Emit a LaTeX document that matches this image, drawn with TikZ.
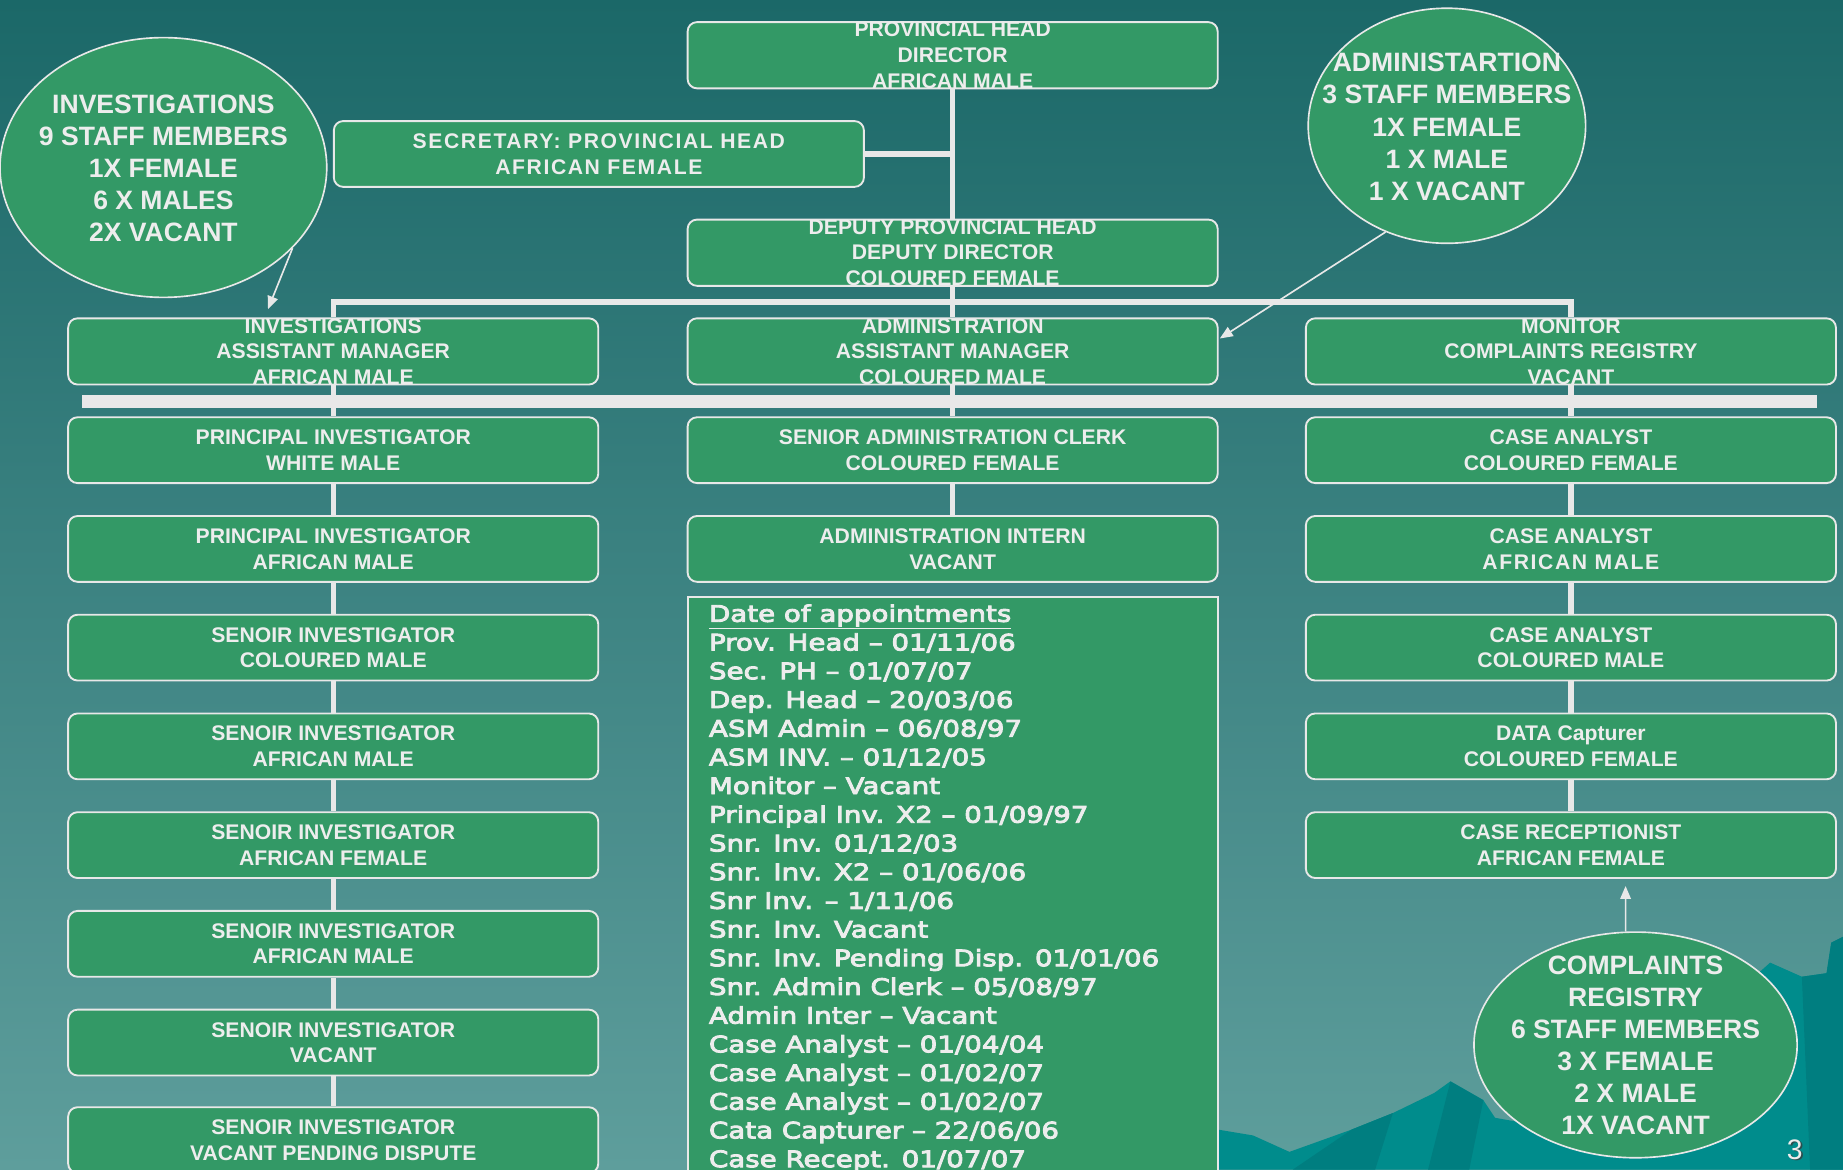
\documentclass[tikz,border=0pt]{standalone}
\usepackage{fontspec}
\setmainfont{Liberation Sans}
\newfontfamily\spcfont[LetterSpace=7.5]{Liberation Sans}
\newfontfamily\datefont[FakeStretch=1.22,FakeBold=4]{DejaVu Sans}
\usetikzlibrary{shapes.geometric,arrows.meta,calc}
\definecolor{bgtop}{HTML}{1B6868}
\definecolor{bgbot}{HTML}{5E9E9C}
\definecolor{gfill}{HTML}{339966}
\definecolor{wline}{HTML}{E8E8E8}
\definecolor{wtext}{HTML}{EDEDED}
\definecolor{mount}{HTML}{008C8C}
\definecolor{mountd}{HTML}{007E80}
\definecolor{shadowc}{HTML}{2A4F4F}
\begin{document}
\begin{tikzpicture}[x=1pt,y=-1pt,
  box/.style={draw=wline, line width=1.6pt, fill=gfill, rounded corners=8pt,
    minimum width=451pt, minimum height=56pt, inner sep=0pt, align=center,
    text=wtext, font=\bfseries\fontsize{18}{21.8}\selectfont},
  spcbox/.style={box, font=\spcfont\bfseries\fontsize{18}{21.8}\selectfont},
  conn/.style={draw=wline, line width=4.5pt},
  arr/.style={draw=wline, line width=1.4pt, -{Triangle[width=9pt,length=11pt]}},
  ell/.style={ellipse, draw=wline, line width=1.4pt, fill=gfill, inner sep=0pt},
  elltxt/.style={align=center, text=wtext, inner sep=0pt,
    font=\bfseries\fontsize{22.6}{27.3}\selectfont},
  dline/.style={anchor=base west, text=wtext, inner sep=0pt,
    font=\datefont\fontsize{19.3}{24}\selectfont}]
\useasboundingbox (0,0) rectangle (1568,995);
\clip (0,0) rectangle (1568,995);
% background
\shade[top color=bgtop, bottom color=bgbot] (0,0) rectangle (1568,995);
% mountains
\fill[mount] (1030,960) -- (1066,966) -- (1097,980) -- (1150,961) -- (1185,947)
  -- (1220,930) -- (1234,920) -- (1262,936) -- (1272,951) -- (1300,956)
  -- (1480,842) -- (1506,819) -- (1533,831) -- (1554,828) -- (1558,802)
  -- (1568,797) -- (1568,995) -- (1030,995) -- cycle;
\fill[mountd] (1100,995) -- (1150,961) -- (1185,947) -- (1170,995) -- cycle;
\fill[mountd] (1234,920) -- (1262,936) -- (1250,995) -- (1215,995) -- cycle;
\fill[mountd] (1533,831) -- (1554,828) -- (1558,802) -- (1568,797) -- (1568,995) -- (1540,995) -- cycle;

% top hierarchy
\node[box] (ph) at (810.5,47) {PROVINCIAL HEAD\\DIRECTOR\\AFRICAN MALE};
\node[spcbox] (sec) at (509.5,131) {SECRETARY: PROVINCIAL HEAD\\AFRICAN FEMALE};
\node[box] (dep) at (810.5,215) {DEPUTY PROVINCIAL HEAD\\DEPUTY DIRECTOR\\COLOURED FEMALE};
\node[box] (inv) at (283.5,299) {INVESTIGATIONS\\ASSISTANT MANAGER\\AFRICAN MALE};
\node[box] (adm) at (810.5,299) {ADMINISTRATION\\ASSISTANT MANAGER\\COLOURED MALE};
\node[box] (mon) at (1336.5,299) {MONITOR\\COMPLAINTS REGISTRY\\VACANT};

% thick bar
\node[fill=wline, minimum width=1476pt, minimum height=11.5pt, inner sep=0pt] (bar) at (808,341.5) {};

% left column
\node[box] (L1) at (283.5,383) {PRINCIPAL INVESTIGATOR\\WHITE MALE};
\node[box] (L2) at (283.5,467) {PRINCIPAL INVESTIGATOR\\AFRICAN MALE};
\node[box] (L3) at (283.5,551) {SENOIR INVESTIGATOR\\COLOURED MALE};
\node[box] (L4) at (283.5,635) {SENOIR INVESTIGATOR\\AFRICAN MALE};
\node[box] (L5) at (283.5,719) {SENOIR INVESTIGATOR\\AFRICAN FEMALE};
\node[box] (L6) at (283.5,803) {SENOIR INVESTIGATOR\\AFRICAN MALE};
\node[box] (L7) at (283.5,887) {SENOIR INVESTIGATOR\\VACANT};
\node[box] (L8) at (283.5,970) {SENOIR INVESTIGATOR\\VACANT PENDING DISPUTE};

% middle column
\node[box] (M1) at (810.5,383) {SENIOR ADMINISTRATION CLERK\\COLOURED FEMALE};
\node[box] (M2) at (810.5,467) {ADMINISTRATION INTERN\\VACANT};

% right column
\node[box] (R1) at (1336.5,383) {CASE ANALYST\\COLOURED FEMALE};
\node[box] (R2) at (1336.5,467) {CASE ANALYST\\{\spcfont AFRICAN MALE}};
\node[box] (R3) at (1336.5,551) {CASE ANALYST\\COLOURED MALE};
\node[box] (R4) at (1336.5,635) {DATA Capturer\\COLOURED FEMALE};
\node[box] (R5) at (1336.5,719) {CASE RECEPTIONIST\\AFRICAN FEMALE};

% dates box
\node[draw=wline, line width=1.6pt, fill=gfill, minimum width=451pt,
  minimum height=492pt, inner sep=0pt] (dates) at (810.5,754) {};
\foreach \t [count=\i from 0] in {{\underline{Date of appointments}},
  {Prov. Head – 01/11/06}, {Sec. PH – 01/07/07}, {Dep. Head – 20/03/06},
  {ASM Admin – 06/08/97}, {ASM INV. – 01/12/05}, {Monitor – Vacant},
  {Principal Inv. X2 – 01/09/97}, {Snr. Inv. 01/12/03}, {Snr. Inv. X2 – 01/06/06},
  {Snr Inv. – 1/11/06}, {Snr. Inv. Vacant}, {Snr. Inv. Pending Disp. 01/01/06},
  {Snr. Admin Clerk – 05/08/97}, {Admin Inter – Vacant}, {Case Analyst – 01/04/04},
  {Case Analyst – 01/02/07}, {Case Analyst – 01/02/07}, {Cata Capturer – 22/06/06},
  {Case Recept. 01/07/07}}
  \node[dline] (d\i) at (603,{529+24.42*\i}) {\t};

% connectors
\draw[conn] (ph.south) -- (dep.north);
\draw[conn] (sec.east) -- (sec.east -| ph.south);
\draw[conn] (dep.south) -- (adm.north);
\coordinate (hbar) at ($(dep.south)!0.5!(adm.north)$);
\draw[conn] (inv.north) |- (hbar) -| (mon.north);
\draw[conn] (inv.south) -- (L1.north);
\draw[conn] (L1.south) -- (L2.north);
\draw[conn] (L2.south) -- (L3.north);
\draw[conn] (L3.south) -- (L4.north);
\draw[conn] (L4.south) -- (L5.north);
\draw[conn] (L5.south) -- (L6.north);
\draw[conn] (L6.south) -- (L7.north);
\draw[conn] (L7.south) -- (L8.north);
\draw[conn] (adm.south) -- (M1.north);
\draw[conn] (M1.south) -- (M2.north);
\draw[conn] (mon.south) -- (R1.north);
\draw[conn] (R1.south) -- (R2.north);
\draw[conn] (R2.south) -- (R3.north);
\draw[conn] (R3.south) -- (R4.north);
\draw[conn] (R4.south) -- (R5.north);

% ellipses
\node[ell, minimum width=278pt, minimum height=221pt] (invE) at (139,142.5) {};
\node[elltxt] (invT) at (139,143.5) {INVESTIGATIONS\\9 STAFF MEMBERS\\1X FEMALE\\6 X MALES\\2X VACANT};
\node[ell, minimum width=236pt, minimum height=200pt] (admE) at (1231,107) {};
\node[elltxt] (admT) at (1231,108) {ADMINISTARTION\\3 STAFF MEMBERS\\1X FEMALE\\1 X MALE\\1 X VACANT};
\node[ell, minimum width=275pt, minimum height=192pt] (cmpE) at (1391.5,889) {};
\node[elltxt] (cmpT) at (1391.5,889.5) {COMPLAINTS\\REGISTRY\\6 STAFF MEMBERS\\3 X FEMALE\\2 X MALE\\1X VACANT};

% arrows
\coordinate (invtip) at (228,263);
\draw[arr] (invE.-32) -- (invtip);
\coordinate (admtip) at ($(adm.east)+(1,-11)$);
\draw[arr] (admE.-120) -- (admtip);
\coordinate (cmptip) at ($(R5.south)+(46.5,6)$);
\draw[arr] (cmpE.95) -- (cmptip);

% page number
\node[text=shadowc, inner sep=0pt, font=\fontsize{24}{24}\selectfont] (pgs) at (1528.3,979.3) {3};
\node[text=wtext, inner sep=0pt, font=\fontsize{24}{24}\selectfont] (pg) at (1527,978) {3};
\end{tikzpicture}
\end{document}
